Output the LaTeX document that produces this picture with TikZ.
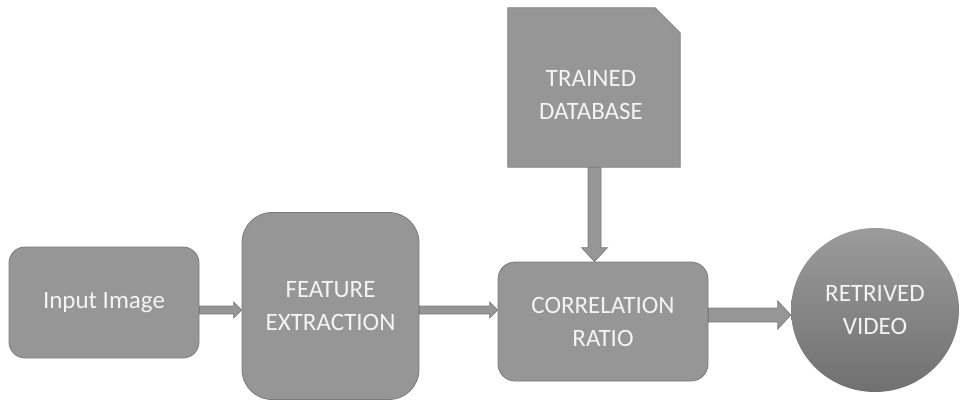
\documentclass[tikz,border=0pt]{standalone}
\usepackage{fontspec}
\setmainfont{Carlito}
\usetikzlibrary{calc,shapes.geometric}
\definecolor{boxfill}{HTML}{969696}
\definecolor{boxline}{HTML}{7C7C7C}
\definecolor{txtcol}{HTML}{F4F4F4}
\tikzset{
  stage/.style={draw=boxline, line width=0.8pt, fill=boxfill, rectangle,
    inner sep=0pt, text=txtcol, align=center,
    font=\fontsize{25}{33}\selectfont},
  flowarrow/.style={draw=boxline, line width=0.7pt, fill=boxfill},
  labeltext/.style={text=txtcol, align=center, font=\fontsize{25}{33}\selectfont}
}
% horizontal block arrow: from node, to node, y level, half shaft, half head, head length
\newcommand{\harrow}[6]{%
  \path[flowarrow] let \p1=(#1.east |- 0,#3), \p2=(#2.west |- 0,#3) in
    (\x1,\y1+#4pt) -- (\x2-#6pt,\y1+#4pt) -- (\x2-#6pt,\y1+#5pt) -- (\x2,\y1)
    -- (\x2-#6pt,\y1-#5pt) -- (\x2-#6pt,\y1-#4pt) -- (\x1,\y1-#4pt) -- cycle;}
\begin{document}
\begin{tikzpicture}[x=1pt,y=-1pt]
\useasboundingbox (0,0) rectangle (960,403);

% process blocks
\node[stage, rounded corners=16pt, minimum width=190pt, minimum height=111pt]
  (in) at (104,302.5) {Input Image};
\node[stage, rounded corners=30pt, minimum width=177pt, minimum height=187pt]
  (fe) at (330.5,306) {FEATURE\\EXTRACTION};
\node[stage, rounded corners=17pt, minimum width=210pt, minimum height=119pt]
  (cr) at (603,321.5) {CORRELATION\\RATIO};

% database block with a snipped corner
\node[rectangle, inner sep=0pt, minimum width=172pt, minimum height=159pt]
  (db) at (594,87.5) {};
\path[flowarrow, line width=0.8pt] (db.south west) -- (db.north west)
  -- ([xshift=-25pt]db.north east) -- ([yshift=-25pt]db.north east)
  -- (db.south east) -- cycle;
\node[labeltext] (dbtxt) at (591,95) {TRAINED\\DATABASE};

% result
\node[ellipse, inner sep=0pt, minimum width=168pt, minimum height=164pt,
  top color=boxfill!95!white, bottom color=black!56, text=txtcol, align=center,
  font=\fontsize{25}{33}\selectfont] (rv) at (875,310) {RETRIVED\\VIDEO};

% connectors
\harrow{in}{fe}{310}{4}{8}{8}
\harrow{fe}{cr}{310}{4}{8}{8}
\harrow{cr}{rv}{315}{7}{14}{13}
\path[flowarrow] let \p1=(db.south -| 594.5,0), \p2=(cr.north -| 594.5,0) in
  (\x1-6.5pt,\y1) -- (\x1-6.5pt,\y2+14pt) -- (\x1-13pt,\y2+14pt) -- (\x1,\y2)
  -- (\x1+13pt,\y2+14pt) -- (\x1+6.5pt,\y2+14pt) -- (\x1+6.5pt,\y1) -- cycle;
\end{tikzpicture}
\end{document}
